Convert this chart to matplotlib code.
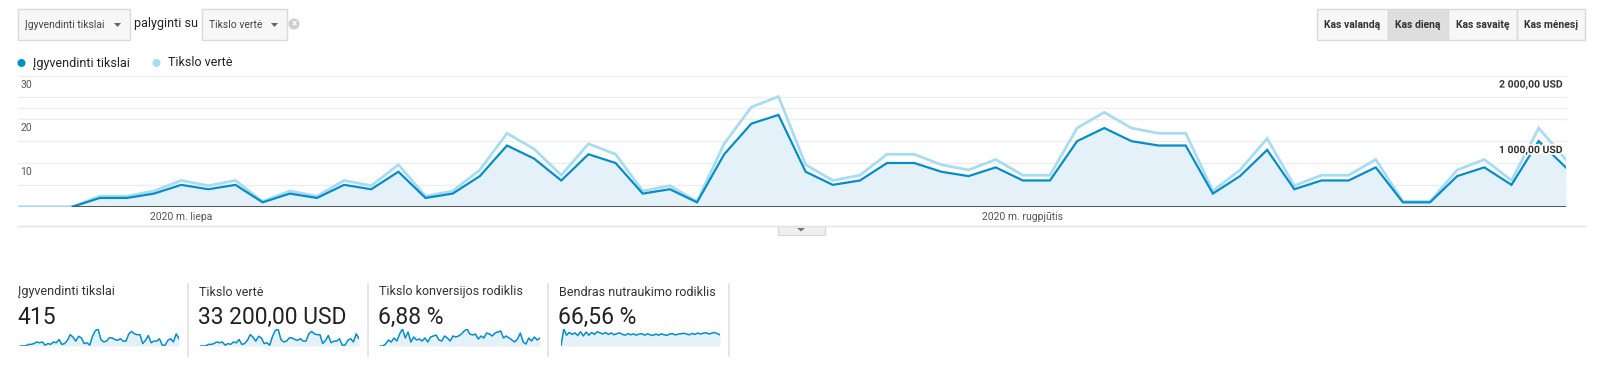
"""Google Analytics goal overview: daily goals vs goal value, plus four KPI tiles."""
import numpy as np
import matplotlib
matplotlib.use("Agg")
import matplotlib.pyplot as plt
import matplotlib.patheffects as pe
from matplotlib.patches import Rectangle, Circle, Polygon

plt.rcParams["font.family"] = ["Roboto", "DejaVu Sans"]

# ---- data (one point per day, 25 Jun .. 21 Aug 2020) ----
goals = [None, None, 0, 2, 2, 3, 5, 4, 5, 1, 3, 2, 5, 4, 8,
         2, 3, 7, 14, 11, 6, 12, 10, 3, 4, 1, 12, 19, 21, 8,
         5, 6, 10, 10, 8, 7, 9, 6, 6, 15, 18, 15, 14, 14, 3,
         7, 13, 4, 6, 6, 9, 1, 1, 7, 9, 5, 15, 9]
goal_value = [0, 0, 0, 160, 160, 240, 400, 320, 400, 80, 240, 160, 400, 320, 640,
              160, 240, 560, 1120, 880, 480, 960, 800, 240, 320, 80, 960, 1520, 1680, 640,
              400, 480, 800, 800, 640, 560, 720, 480, 480, 1200, 1440, 1200, 1120, 1120, 240,
              560, 1040, 320, 480, 480, 720, 80, 80, 560, 720, 400, 1200, 720]
conv_rate = [0, 0, 2, 6, 4, 8, 5, 12, 17, 8, 14, 4, 9, 6, 7, 5, 8, 4, 9, 10,
             11, 6, 5, 10, 8, 5, 10, 9, 10, 12, 15, 17, 12, 11, 12, 7, 10, 8, 13, 12,
             10, 13, 14, 15, 8, 10, 8, 6, 4, 7, 13, 4, 2, 8, 5, 9, 6, 8]
abandon_rate = [0, 88, 56, 70, 60, 68, 54, 74, 52, 72, 56, 70, 60, 74, 68, 62, 70, 60, 68, 58,
                64, 68, 60, 56, 64, 58, 63, 56, 62, 64, 56, 63, 58, 55, 62, 56, 63, 58, 55, 62,
                64, 57, 62, 63, 66, 62, 58, 65, 60, 67, 62, 66, 69, 62, 66, 70, 64, 58]

left_ticks = [10, 20, 30]
right_ticks = [1000, 2000]
right_tick_labels = ["1 000,00 USD", "2 000,00 USD"]
month_pos = [6, 37]
month_labels = ["2020 m. liepa", "2020 m. rugpjūtis"]

kpi_titles = ["Įgyvendinti tikslai", "Tikslo vertė", "Tikslo konversijos rodiklis",
              "Bendras nutraukimo rodiklis"]
kpi_values = ["415", "33 200,00 USD", "6,88 %", "66,56 %"]
period_buttons = ["Kas valandą", "Kas dieną", "Kas savaitę", "Kas mėnesį"]

DARK = "#058dc7"
LIGHT = "#a8dcf1"
FILL = "#e5f1f8"

W, H = 1600, 385
fig = plt.figure(figsize=(W / 100, H / 100), dpi=100)
fig.patch.set_facecolor("white")


def box(x0, y0, x1, y1):
    """pixel box (top-left origin) -> figure rect"""
    return [x0 / W, 1 - y1 / H, (x1 - x0) / W, (y1 - y0) / H]


# overlay axes in pixel coordinates for the UI chrome
ui = fig.add_axes([0, 0, 1, 1])
ui.set_xlim(0, W); ui.set_ylim(H, 0); ui.axis("off")

# ---- top controls ----
for x0, x1, label in [(18, 130, "Įgyvendinti tikslai"), (202, 287, "Tikslo vertė")]:
    ui.add_patch(Rectangle((x0, 9), x1 - x0, 31, fc="#f7f7f7", ec="#d9d9d9", lw=1))
    ui.text(x0 + 7, 25, label, fontsize=7.5, color="#444", va="center")
    ui.add_patch(Polygon([[x1 - 16, 23], [x1 - 9, 23], [x1 - 12.5, 27]], closed=True,
                         fc="#666", ec="none"))
ui.text(134, 23.5, "palyginti su", fontsize=9, color="#222", va="center")
ui.add_patch(Circle((294, 24), 5.5, fc="#cfcfcf", ec="none"))
ui.text(294, 24.3, "×", fontsize=7, color="white", ha="center", va="center", fontweight="bold")

edges = [1317, 1388, 1448, 1517, 1585]
for k, lab in enumerate(period_buttons):
    fc = "#dedede" if k == 1 else "#f7f7f7"
    ui.add_patch(Rectangle((edges[k], 9), edges[k + 1] - edges[k], 31, fc=fc,
                           ec="#d9d9d9", lw=1))
    ui.text((edges[k] + edges[k + 1]) / 2, 25, lab, fontsize=7.5, color="#333",
            ha="center", va="center", fontweight="bold")

# ---- legend ----
ui.add_patch(Circle((21.5, 63), 4, fc=DARK, ec="none"))
ui.text(33, 63, "Įgyvendinti tikslai", fontsize=9, color="#222", va="center")
ui.add_patch(Circle((156.5, 63), 4, fc=LIGHT, ec="none"))
ui.text(168, 63, "Tikslo vertė", fontsize=9, color="#222", va="center")

# ---- main chart ----
ax = fig.add_axes(box(18.3, 75.6, 1565.8, 206.7))
ax2 = ax.twinx()
ax.set_zorder(ax2.get_zorder() + 1)   # goals line on top of goal-value line
ax.patch.set_alpha(0)
x = np.arange(len(goal_value))
g = np.array([np.nan if v is None else v for v in goals], dtype=float)

ax.set_xlim(0, len(x) - 1)
ax.set_ylim(0, 30)
ax2.set_ylim(0, 2000)
for a in (ax, ax2):
    a.set_xticks([]); a.set_yticks([])
    for s in a.spines.values():
        s.set_visible(False)

for v in [5, 10, 15, 20, 22.5, 25, 30]:
    ax2.axhline(v / 30 * 2000, color="#eeeeee", lw=1, zorder=0, clip_on=False)

ax2.plot(x, goal_value, color=LIGHT, lw=2.0, zorder=3, solid_joinstyle="miter")
ax.fill_between(x, 0, g, color=FILL, lw=0, zorder=1)
ax.plot(x, g, color=DARK, lw=1.6, zorder=4, solid_joinstyle="miter")
ax.plot([2, len(x) - 1], [0, 0], color="#555", lw=1.4, zorder=5)

for v in left_ticks:
    ax.annotate(str(v), xy=(0, v), xytext=(2, -4), textcoords="offset pixels",
                fontsize=7.5, color="#555", va="top", ha="left")
# right-axis labels live on the top axes so they sit above the lines
for v, lab in zip(right_ticks, right_tick_labels):
    t = ax.annotate(lab, xy=(len(x) - 1, v), xycoords=("data", ax2.transData),
                    xytext=(-3, -4), textcoords="offset pixels",
                    fontsize=7.5, color="#333", va="top", ha="right", fontweight="bold",
                    zorder=6)
    t.set_path_effects([pe.withStroke(linewidth=2.5, foreground="white")])
for p, lab in zip(month_pos, month_labels):
    ax.annotate(lab, xy=(p, 0), xytext=(0, -5), textcoords="offset pixels",
                fontsize=7.5, color="#555", va="top", ha="center", annotation_clip=False)

# bottom rule and collapse tab
ui.plot([18, 1585], [225.5, 225.5], color="#e3e3e3", lw=1)
ui.add_patch(Rectangle((778, 225.5), 47, 9, fc="#efefef", ec="#d5d5d5", lw=0.8))
ui.add_patch(Polygon([[797, 228], [805, 228], [801, 231.5]], closed=True, fc="#777", ec="none"))

# ---- KPI tiles ----
tile_left = [18, 188, 368, 548]
text_x = [18, 199, 379, 559]
spark_x = [(20, 179), (200, 359), (380, 540), (561, 720)]
sparks = [[0 if v is None else v for v in goals], goal_value, conv_rate, abandon_rate]
for sep in tile_left[1:] + [729]:
    ui.plot([sep, sep], [284, 356], color="#e2e2e2", lw=1.2)

for k in range(4):
    ui.text(text_x[k], 292, kpi_titles[k], fontsize=9, color="#333", va="center")
    ui.text(text_x[k] - 1, 317, kpi_values[k], fontsize=16.5, color="#222", va="center")
    sx = fig.add_axes(box(spark_x[k][0], 329, spark_x[k][1], 346))
    vals = np.array(sparks[k], dtype=float)
    xs = np.arange(len(vals))
    sx.fill_between(xs, 0, vals, color=FILL, lw=0)
    sx.plot(xs, vals, color=DARK, lw=1.1)
    sx.set_xlim(0, len(vals) - 1)
    sx.set_ylim(0, vals.max())
    sx.axis("off")

fig.savefig("out.png", dpi=100)
